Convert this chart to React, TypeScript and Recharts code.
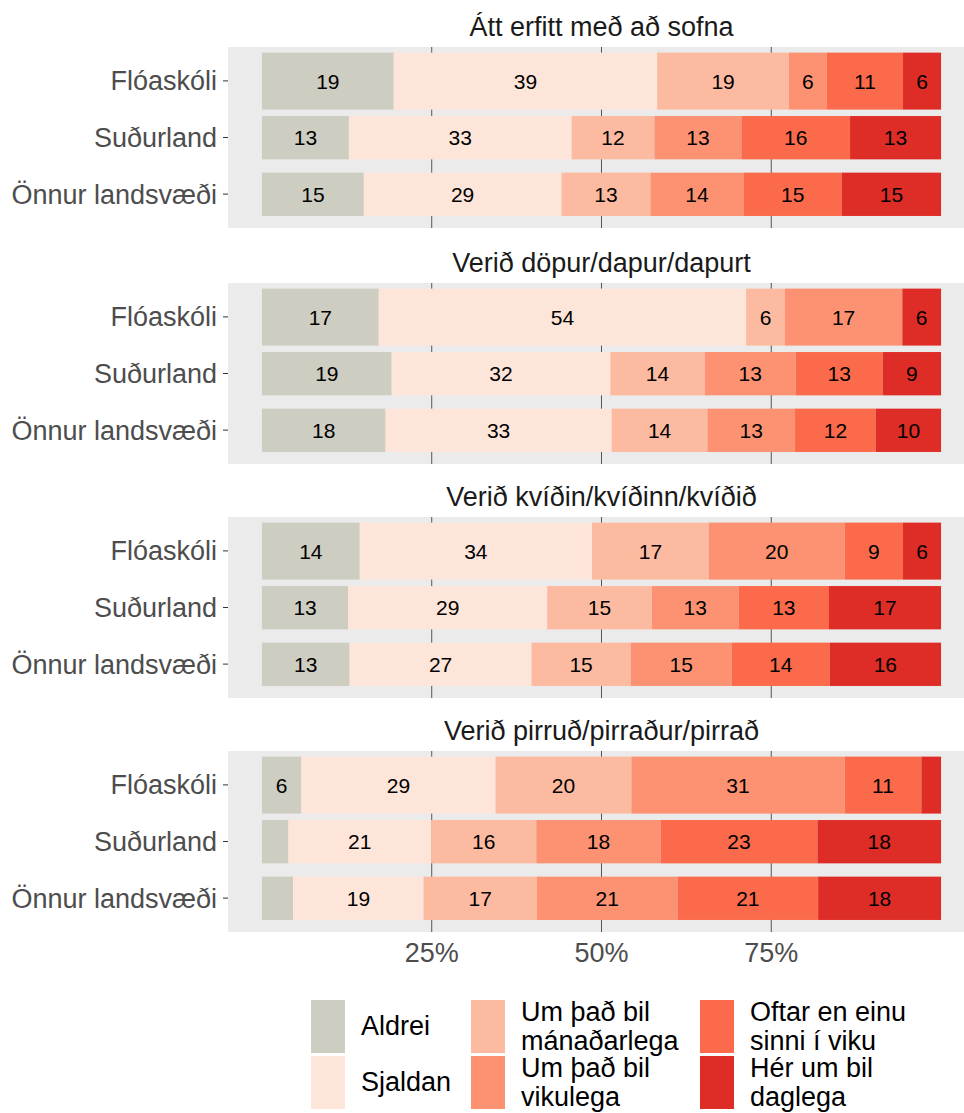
import React from 'react'
import { BarChart, Bar, XAxis, YAxis, CartesianGrid, LabelList } from 'recharts'

// answer options, stacked left to right
const responses = [
  'Aldrei',
  'Sjaldan',
  'Um það bil mánaðarlega',
  'Um það bil vikulega',
  'Oftar en einu sinni í viku',
  'Hér um bil daglega',
]
const legendLabels = [
  'Aldrei',
  'Sjaldan',
  'Um það bil\nmánaðarlega',
  'Um það bil\nvikulega',
  'Oftar en einu\nsinni í viku',
  'Hér um bil\ndaglega',
]
const colors = ['#CDCDC1', '#FEE5D9', '#FCBBA1', '#FC9272', '#FB6A4A', '#DE2D26']

const groups = ['Flóaskóli', 'Suðurland', 'Önnur landsvæði']

const questions = [
  'Átt erfitt með að sofna',
  'Verið döpur/dapur/dapurt',
  'Verið kvíðin/kvíðinn/kvíðið',
  'Verið pirruð/pirraður/pirrað',
]

// percent per group (rows) and answer (columns)
const sofnaValues = [
  [19.4, 38.8, 19.4, 5.6, 11.2, 5.6],
  [12.8, 32.8, 12.2, 12.8, 16.0, 13.4],
  [15.0, 29.1, 13.1, 13.7, 14.5, 14.6],
]
const dapurValues = [
  [17.2, 54.1, 5.7, 17.3, 0, 5.7],
  [19.1, 32.2, 13.9, 13.4, 12.8, 8.6],
  [18.2, 33.3, 14.1, 12.9, 11.9, 9.6],
]
const kvidinValues = [
  [14.4, 34.2, 17.2, 20.0, 8.6, 5.6],
  [12.7, 29.3, 15.4, 12.8, 13.3, 16.5],
  [12.9, 26.8, 14.6, 14.9, 14.4, 16.4],
]
const pirradValues = [
  [5.8, 28.6, 20.0, 31.4, 11.3, 2.9],
  [3.9, 21.0, 15.5, 18.3, 23.1, 18.2],
  [4.6, 19.2, 16.7, 20.7, 20.7, 18.1],
]

const xTicks = [25, 50, 75]

const FONT = '"Liberation Sans", Arial, Helvetica, sans-serif'
const PANEL_TOPS = [47, 283, 517, 751]
const PANEL_H = 181
const CHART_W = 975
const AXIS_W = 228

// Flóaskóli bars fill the whole band, the others are thinner
const barHeightFactor: Record<string, number> = { 'Flóaskóli': 1.0 }
const DEFAULT_FACTOR = 0.76

function buildRows(values: number[][]) {
  return groups.map((g, gi) => {
    const row: Record<string, string | number> = { group: g }
    responses.forEach((_, ri) => {
      row['r' + ri] = values[gi][ri]
    })
    return row
  })
}

const panels = [sofnaValues, dapurValues, kvidinValues, pirradValues].map(buildRows)

function SegmentShape(props: any) {
  const { x, y, width, height, fill, payload } = props
  const f = barHeightFactor[payload?.group] ?? DEFAULT_FACTOR
  const h = height * f
  return <rect x={x} y={y + (height - h) / 2} width={Math.max(width, 0)} height={h} fill={fill} />
}

// small segments (< 5%) get no label
const fmtLabel = (v: any) => (typeof v === 'number' && v >= 5 ? String(Math.round(v)) : '')

function Panel({ data, showAxis }: { data: any[]; showAxis: boolean }) {
  return (
    <BarChart
      width={CHART_W}
      height={PANEL_H + (showAxis ? 40 : 0)}
      data={data}
      layout="vertical"
      barCategoryGap={0}
      margin={{ top: 0, right: 0, bottom: 0, left: 0 }}
    >
      <CartesianGrid
        horizontal={false}
        syncWithTicks
        fill="#EBEBEB"
        stroke="#555555"
        strokeWidth={1}
      />
      <XAxis
        type="number"
        domain={[-5, 105]}
        ticks={xTicks}
        allowDataOverflow
        hide={!showAxis}
        height={40}
        axisLine={false}
        tickLine={false}
        tickSize={6}
        tickMargin={5}
        tickFormatter={(v) => `${v}%`}
        tick={{ fontSize: 27, fill: '#4D4D4D', fontFamily: FONT }}
      />
      <YAxis
        type="category"
        dataKey="group"
        width={AXIS_W}
        padding={{ top: 5.6, bottom: 5.6 }}
        axisLine={false}
        tickLine={{ stroke: '#333333' }}
        tickSize={5}
        tickMargin={6}
        tick={{ fontSize: 27, fill: '#4D4D4D', fontFamily: FONT }}
      />
      {responses.map((r, i) => (
        <Bar
          key={r}
          dataKey={'r' + i}
          name={r}
          stackId="a"
          fill={colors[i]}
          shape={SegmentShape}
          isAnimationActive={false}
        >
          <LabelList
            dataKey={'r' + i}
            position="center"
            formatter={fmtLabel}
            fill="#000000"
            fontSize={21}
            fontFamily={FONT}
          />
        </Bar>
      ))}
    </BarChart>
  )
}

// legend grid: columns hold two keys each
const legendColX = [311, 471, 700]
const legendRowY = [1000, 1056]

export default function App() {
  return (
    <div
      style={{
        position: 'absolute',
        left: 0,
        top: 0,
        width: 964,
        height: 1113,
        overflow: 'hidden',
        background: '#FFFFFF',
        fontFamily: FONT,
      }}
    >
      {panels.map((data, pi) => (
        <React.Fragment key={questions[pi]}>
          <div
            style={{
              position: 'absolute',
              left: AXIS_W,
              width: CHART_W - AXIS_W,
              top: PANEL_TOPS[pi] - 36,
              height: 32,
              lineHeight: '32px',
              textAlign: 'center',
              fontSize: 27,
              color: '#1A1A1A',
            }}
          >
            {questions[pi]}
          </div>
          <div style={{ position: 'absolute', left: 0, top: PANEL_TOPS[pi] }}>
            <Panel data={data} showAxis={pi === panels.length - 1} />
          </div>
        </React.Fragment>
      ))}

      {responses.map((r, i) => {
        const col = Math.floor(i / 2)
        const row = i % 2
        return (
          <React.Fragment key={r}>
            <div
              style={{
                position: 'absolute',
                left: legendColX[col],
                top: legendRowY[row],
                width: 34,
                height: 53,
                background: colors[i],
              }}
            />
            <div
              style={{
                position: 'absolute',
                left: legendColX[col] + 50,
                top: legendRowY[row],
                height: 53,
                display: 'flex',
                alignItems: 'center',
                whiteSpace: 'pre-line',
                fontSize: 27,
                lineHeight: '29px',
                color: '#000000',
              }}
            >
              {legendLabels[i]}
            </div>
          </React.Fragment>
        )
      })}
    </div>
  )
}
